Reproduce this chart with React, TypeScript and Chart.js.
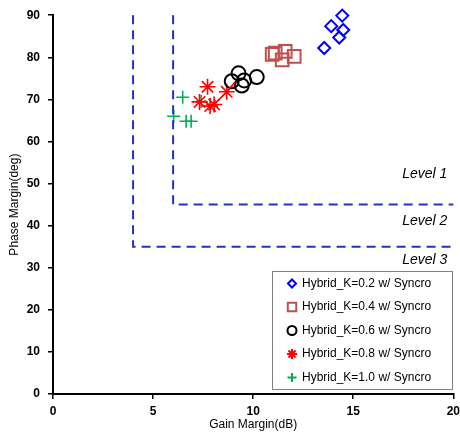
import React, { useEffect, useRef } from 'react';
import { Chart, registerables } from 'chart.js';
import { drawPoint } from 'chart.js/helpers';

Chart.register(...registerables);

// ---- data ----
const seriesNames = [
  'Hybrid_K=0.2 w/ Syncro',
  'Hybrid_K=0.4 w/ Syncro',
  'Hybrid_K=0.6 w/ Syncro',
  'Hybrid_K=0.8 w/ Syncro',
  'Hybrid_K=1.0 w/ Syncro',
];
const k02Gain = [14.45, 13.9, 14.5, 14.3, 13.55];
const k02Phase = [89.9, 87.4, 86.5, 84.7, 82.2];
const k04Gain = [10.95, 11.1, 11.6, 11.45, 12.05];
const k04Phase = [80.7, 81.0, 81.4, 79.4, 80.2];
const k06Gain = [9.27, 8.93, 9.55, 9.43, 10.18];
const k06Phase = [76.2, 74.3, 74.5, 73.3, 75.3];
const k08Gain = [7.72, 8.68, 7.32, 7.85, 8.05];
const k08Phase = [73.0, 71.8, 69.4, 68.4, 68.8];
const k10Gain = [6.48, 7.4, 6.03, 6.65, 6.9];
const k10Phase = [70.5, 69.5, 66.0, 64.8, 64.8];
const k08LinkGain = [8.05, 8.68, 9.1];
const k08LinkPhase = [68.8, 71.8, 74.2];
const limitAGain = [4, 4, 20];
const limitAPhase = [90, 35, 35];
const limitBGain = [6, 6, 20];
const limitBPhase = [90, 45, 45];
const levelLabels = ['Level 1', 'Level 2', 'Level 3'];
const levelLabelPhase = [52.2, 41.0, 31.8];
const levelLabelGain = 19.7;
const xTicksMax = 20;
const yTicksMax = 90;

const seriesColors = ['#0000ff', '#c0504d', '#000000', '#ff0000', '#00b050'];
const seriesStyles = ['rectRot', 'rect', 'circle', 'star', 'cross'];
const seriesRadius = [6, 9, 7, 8, 6.5];
const seriesBorder = [2, 2, 2, 1.6, 1.6];
const legendRadius = [4, 6, 4.5, 5, 4.5];

const pts = (xs: number[], ys: number[]) => xs.map((x, i) => ({ x, y: ys[i] }));

const overlayPlugin = {
  id: 'overlay',
  afterDraw(chart: any) {
    const ctx = chart.ctx;
    const xs = chart.scales.x;
    const ys = chart.scales.y;
    ctx.save();
    // level labels
    ctx.font = 'italic 14px "Liberation Sans", Arial, sans-serif';
    ctx.fillStyle = '#000';
    ctx.textAlign = 'right';
    ctx.textBaseline = 'middle';
    levelLabels.forEach((t, i) => {
      ctx.fillText(t, xs.getPixelForValue(levelLabelGain), ys.getPixelForValue(levelLabelPhase[i]));
    });
    // legend box
    const bx = 272, by = 271, bw = 180, bh = 118;
    ctx.fillStyle = '#fff';
    ctx.fillRect(bx, by, bw, bh);
    ctx.strokeStyle = '#808080';
    ctx.lineWidth = 1;
    ctx.strokeRect(bx + 0.5, by + 0.5, bw, bh);
    ctx.font = '12px "Liberation Sans", Arial, sans-serif';
    ctx.textAlign = 'left';
    seriesNames.forEach((name, i) => {
      const cy = by + 12.5 + i * 23.5;
      ctx.strokeStyle = seriesColors[i];
      ctx.fillStyle = 'rgba(0,0,0,0)';
      ctx.lineWidth = 2;
      drawPoint(ctx, { pointStyle: seriesStyles[i], radius: legendRadius[i], rotation: 0, borderWidth: 2 } as any, 292, cy);
      ctx.fillStyle = '#000';
      ctx.fillText(name, 302, cy);
    });
    ctx.restore();
  },
};

export default function App() {
  const ref = useRef<HTMLCanvasElement>(null);
  useEffect(() => {
    if (!ref.current) return;
    const scatterSet = (i: number, xs: number[], ys: number[]) => ({
      type: 'scatter' as const,
      label: seriesNames[i],
      data: pts(xs, ys),
      showLine: false,
      clip: false,
      pointStyle: seriesStyles[i],
      pointRadius: seriesRadius[i],
      borderColor: seriesColors[i],
      backgroundColor: 'rgba(0,0,0,0)',
      pointBorderWidth: seriesBorder[i],
      borderWidth: seriesBorder[i],
    });
    const lineSet = (xs: number[], ys: number[], color: string, dash: number[], w: number) => ({
      type: 'line' as const,
      label: '',
      data: pts(xs, ys),
      showLine: true,
      clip: false,
      borderColor: color,
      borderWidth: w,
      borderDash: dash,
      pointRadius: 0,
      fill: false,
      tension: 0,
    });
    const chart = new Chart(ref.current, {
      type: 'scatter',
      data: {
        datasets: [
          lineSet(limitAGain, limitAPhase, '#2233c4', [9, 6], 2),
          lineSet(limitBGain, limitBPhase, '#2233c4', [9, 6], 2),
          lineSet(k08LinkGain, k08LinkPhase, '#ff0000', [], 1.5),
          scatterSet(0, k02Gain, k02Phase),
          scatterSet(1, k04Gain, k04Phase),
          scatterSet(2, k06Gain, k06Phase),
          scatterSet(3, k08Gain, k08Phase),
          scatterSet(4, k10Gain, k10Phase),
        ] as any,
      },
      options: {
        animation: false,
        responsive: false,
        events: [],
        layout: { padding: { top: 7, right: 0, left: 7, bottom: 0 } },
        plugins: { legend: { display: false }, tooltip: { enabled: false } },
        scales: {
          x: {
            type: 'linear',
            min: 0,
            max: xTicksMax,
            ticks: {
              stepSize: 5,
              color: '#000',
              padding: 5,
              font: { family: '"Liberation Sans", Arial, sans-serif', size: 12, weight: 'bold' },
            },
            grid: { drawOnChartArea: false, drawTicks: true, tickLength: 5, color: '#000', lineWidth: 1.5 },
            border: { display: true, color: '#000', width: 2 },
            title: {
              display: true,
              text: 'Gain Margin(dB)',
              color: '#000',
              padding: { top: 0, bottom: 0 },
              font: { family: '"Liberation Sans", Arial, sans-serif', size: 12 },
            },
            afterFit: (s: any) => { s.height = 38; },
          },
          y: {
            type: 'linear',
            min: 0,
            max: yTicksMax,
            ticks: {
              stepSize: 10,
              color: '#000',
              padding: 8,
              font: { family: '"Liberation Sans", Arial, sans-serif', size: 12, weight: 'bold' },
            },
            grid: { drawOnChartArea: false, drawTicks: true, tickLength: 5, color: '#000', lineWidth: 1.5 },
            border: { display: true, color: '#000', width: 2 },
            title: {
              display: true,
              text: 'Phase Margin(deg)',
              color: '#000',
              padding: { top: 0, bottom: 2 },
              font: { family: '"Liberation Sans", Arial, sans-serif', size: 12 },
            },
            afterFit: (s: any) => { s.width = 46; },
          },
        },
      },
      plugins: [overlayPlugin],
    } as any);
    return () => chart.destroy();
  }, []);
  return (
    <div style={{ position: 'fixed', left: 0, top: 0, width: 460, height: 432, overflow: 'hidden', background: '#fff' }}>
      <canvas ref={ref} width={465} height={432} style={{ width: 465, height: 432, display: 'block' }} />
    </div>
  );
}
